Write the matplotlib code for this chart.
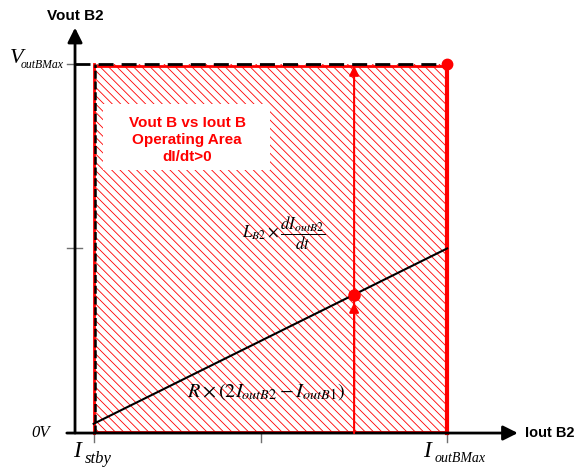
"""
Vout B2 vs Iout B2 operating area (dI/dt > 0).
"""

import matplotlib
matplotlib.use("Agg")
import matplotlib.pyplot as plt
from matplotlib.patches import Rectangle

# operating area limits (normalised units)
I_STBY = 0.5
I_MAX = 10.0
V_MAX = 10.0
AXIS_TICKS_X = [0.5, 5.0, 10.0]
AXIS_TICKS_Y = [5.0, 10.0]

# resistive drop line R x (2*IoutB2 - IoutB1)
line_x = [0.5, 10.0]
line_y = [0.25, 5.0]

# operating point and its inductive step up to VoutBMax
op_x = 7.5
op_y = 3.75
corner_x = 10.0
corner_y = 10.0

RED = "#ff0000"
SERIF = "Liberation Serif"

plt.rcParams["font.family"] = ["Liberation Sans", "DejaVu Sans"]
plt.rcParams["mathtext.fontset"] = "stix"
plt.rcParams["hatch.color"] = RED
plt.rcParams["hatch.linewidth"] = 0.6

fig = plt.figure(figsize=(5.77, 4.67), dpi=100)
ax = fig.add_axes([0, 0, 1, 1])
ax.set_xlim(-2.016, 13.49)
ax.set_ylim(-0.92, 11.73)
ax.axis("off")


def sub_label(x, y, main, sub, size, sub_size, dx, dy):
    # italic serif symbol with a smaller subscript after it
    ax.text(x, y, main, fontsize=size, family=SERIF, style="italic",
            ha="left", va="baseline")
    ax.text(x + dx, y - dy, sub, fontsize=sub_size, family=SERIF,
            style="italic", ha="left", va="baseline")


# hatched operating area
ax.add_patch(Rectangle((I_STBY, 0), I_MAX - I_STBY, V_MAX, fill=False,
                       hatch="\\\\\\\\", edgecolor=RED, lw=0, zorder=1))

# white label box
ax.add_patch(Rectangle((0.75, 7.13), 4.49, 1.79, facecolor="white",
                       edgecolor="none", zorder=2))
ax.text(3.01, 7.94, "Vout B vs Iout B\nOperating Area\ndI/dt>0", color=RED,
        fontsize=11, fontweight="bold", ha="center", va="center",
        linespacing=1.28, zorder=3)

# red border of the area
ax.plot([I_STBY, I_STBY], [0, V_MAX], color=RED, lw=2, zorder=4)
ax.plot([I_STBY, I_MAX], [0.04, 0.04], color=RED, lw=2, zorder=4)
ax.plot([I_STBY, I_MAX], [V_MAX - 0.05, V_MAX - 0.05], color=RED, lw=2, zorder=4)
ax.plot([I_MAX, I_MAX], [0, V_MAX], color=RED, lw=3, zorder=4)

# black dashed limits on top and left
ax.plot([0, I_MAX], [V_MAX, V_MAX], color="black", lw=2, zorder=5,
        dashes=(5.4, 2.9))
ax.plot([I_STBY + 0.04, I_STBY + 0.04], [0, V_MAX], color="black", lw=1.8,
        zorder=5, dashes=(3.2, 1.1))

# ticks
for x in AXIS_TICKS_X:
    ax.plot([x, x], [0, -0.25], color="#707070", lw=1, zorder=3)
for y in AXIS_TICKS_Y:
    ax.plot([-0.22, 0.2 if y < V_MAX else 0], [y, y], color="#707070",
            lw=1, zorder=3)

# axes with arrows
ax.annotate("", xy=(11.9, 0), xytext=(-0.22, 0),
            arrowprops=dict(arrowstyle="-|>", color="black", lw=2,
                            mutation_scale=22, shrinkA=0, shrinkB=0), zorder=6)
ax.annotate("", xy=(0, 10.98), xytext=(0, 0),
            arrowprops=dict(arrowstyle="-|>", color="black", lw=2,
                            mutation_scale=22, shrinkA=0, shrinkB=0), zorder=6)

# resistive line
ax.plot(line_x, line_y, color="black", lw=1.5, zorder=7)

# inductive step at the operating point
ax.annotate("", xy=(op_x, V_MAX - 0.05), xytext=(op_x, 0),
            arrowprops=dict(arrowstyle="-|>", color=RED, lw=1.5,
                            mutation_scale=14, shrinkA=0, shrinkB=0), zorder=8)
ax.annotate("", xy=(op_x, op_y - 0.22), xytext=(op_x, 1.0),
            arrowprops=dict(arrowstyle="-|>", color=RED, lw=1.5,
                            mutation_scale=14, shrinkA=0, shrinkB=0), zorder=8)
ax.plot([op_x], [op_y], "o", color=RED, ms=8, zorder=9)
ax.plot([corner_x], [corner_y], "o", color=RED, ms=7.5, zorder=9)

# axis titles
ax.text(0.0, 11.3, "Vout B2", fontsize=11, fontweight="bold",
        ha="center", va="center")
ax.text(12.1, 0, "Iout B2", fontsize=10.5, fontweight="bold",
        ha="left", va="center")

# symbol labels on the axes
sub_label(-1.75, 10.03, "V", "outBMax", 16, 8.5, 0.29, 0.14)
sub_label(-0.05, -0.65, "I", "stby", 17, 12, 0.3, 0.17)
sub_label(9.35, -0.65, "I", "outBMax", 17, 10, 0.3, 0.14)
ax.text(-0.67, -0.1, "0V", fontsize=12, family=SERIF, style="italic",
        ha="right", va="baseline")

# formulas
ax.text(5.6, 5.42, r"$L_{B2}\times\dfrac{dI_{outB2}}{dt}$", fontsize=12,
        ha="center", va="center", zorder=10)
ax.text(5.12, 1.12, r"$R\times(2I_{outB2}-I_{outB1})$", fontsize=14.5,
        ha="center", va="center", zorder=10)

fig.savefig("out.png", dpi=100)
